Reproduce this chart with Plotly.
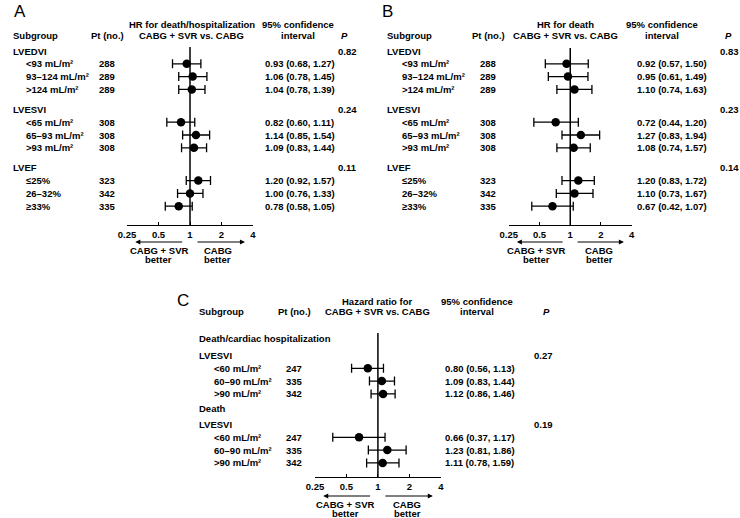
import math
import plotly.graph_objects as go

W, H = 740, 518
FONT = "Liberation Sans"
FS = 9.5

# ---------------- data ----------------
tick_vals = [0.25, 0.5, 1, 2, 4]
tick_text = ["0.25", "0.5", "1", "2", "4"]

a_groups = ["LVEDVI", "LVESVI", "LVEF"]
a_labels = [["<93 mL/m²", "93–124 mL/m²", ">124 mL/m²"],
            ["<65 mL/m²", "65–93 mL/m²", ">93 mL/m²"],
            ["≤25%", "26–32%", "≥33%"]]
a_n = [[288, 289, 289], [308, 308, 308], [323, 342, 335]]
a_hr = [[0.93, 1.06, 1.04], [0.82, 1.14, 1.09], [1.20, 1.00, 0.78]]
a_lo = [[0.68, 0.78, 0.78], [0.60, 0.85, 0.83], [0.92, 0.76, 0.58]]
a_hi = [[1.27, 1.45, 1.39], [1.11, 1.54, 1.44], [1.57, 1.33, 1.05]]
a_p = ["0.82", "0.24", "0.11"]

b_groups = ["LVEDVI", "LVESVI", "LVEF"]
b_labels = a_labels
b_n = [[288, 289, 289], [308, 308, 308], [323, 342, 335]]
b_hr = [[0.92, 0.95, 1.10], [0.72, 1.27, 1.08], [1.20, 1.10, 0.67]]
b_lo = [[0.57, 0.61, 0.74], [0.44, 0.83, 0.74], [0.83, 0.73, 0.42]]
b_hi = [[1.50, 1.49, 1.63], [1.20, 1.94, 1.57], [1.72, 1.67, 1.07]]
b_p = ["0.83", "0.23", "0.14"]

c_sections = ["Death/cardiac hospitalization", "Death"]
c_groups = ["LVESVI", "LVESVI"]
c_labels = [["<60 mL/m²", "60–90 mL/m²", ">90 mL/m²"],
            ["<60 mL/m²", "60–90 mL/m²", ">90 mL/m²"]]
c_n = [[247, 335, 342], [247, 335, 342]]
c_hr = [[0.80, 1.09, 1.12], [0.66, 1.23, 1.11]]
c_lo = [[0.56, 0.83, 0.86], [0.37, 0.81, 0.78]]
c_hi = [[1.13, 1.44, 1.46], [1.17, 1.86, 1.59]]
c_p = ["0.27", "0.19"]

# ---------------- helpers ----------------
annotations = []
shapes = []
traces = []


def txt(x, y, s, anchor="left", bold=True, italic=False, size=FS):
    annotations.append(dict(
        x=x / W, y=y, xref="paper", yref="y", text=s, showarrow=False,
        xanchor=anchor, yanchor="middle", borderpad=0,
        font=dict(family=FONT, size=size, color="black",
                  weight="bold" if bold else "normal",
                  style="italic" if italic else "normal")))


def panel(ax, L, rows):
    xs, ys, ep, em = [], [], [], []
    for kind, y, item in rows:
        if kind == "section":
            txt(L["sub"], y, item)
        elif kind == "group":
            name, p = item
            txt(L["sub"], y, name)
            txt(L["pval"], y, p)
        else:
            lab, n, hr, lo, hi = item
            txt(L["ind"], y, lab)
            txt(L["pt"], y, str(n), anchor="center")
            txt(L["ci"], y, f"{hr:.2f} ({lo:.2f}, {hi:.2f})")
            xs.append(hr); ys.append(y); ep.append(hi - hr); em.append(hr - lo)
    traces.append(go.Scatter(
        x=xs, y=ys, mode="markers", xaxis=ax, yaxis="y",
        marker=dict(size=8.5, color="black"),
        error_x=dict(type="data", symmetric=False, array=ep, arrayminus=em,
                     color="black", thickness=1.3, width=4.5),
        showlegend=False, hoverinfo="skip"))
    # headers
    txt(L["letter"][0], L["letter"][1], L["name"], anchor="left", bold=False, size=17)
    txt(L["sub"], L["h2"], "Subgroup")
    txt(L["pt"], L["h2"], "Pt (no.)", anchor="center")
    txt(L["hr"], L["h1"], L["hr1"], anchor="center")
    txt(L["hr"], L["h2"], L["hr2"], anchor="center")
    txt(L["cih"], L["h1"], "95% confidence", anchor="center")
    txt(L["cih"], L["h2"], "interval", anchor="center")
    txt(L["ph"], L["h2"], "P", italic=True)
    # reference line at HR = 1
    shapes.append(dict(type="line", xref=ax, yref="y", x0=1, x1=1,
                       y0=L["top"], y1=L["axy"],
                       line=dict(color="black", width=1.5)))
    # arrows (annotation positions on log axes are given in log10 units)
    for head, tail in [(0.3, 0.87), (3.35, 1.14)]:
        annotations.append(dict(
            x=math.log10(head), y=L["arr"], ax=math.log10(tail), ay=L["arr"],
            xref=ax, yref="y", axref=ax, ayref="y", showarrow=True,
            arrowhead=2, arrowsize=1, arrowwidth=1, arrowcolor="black", text=""))
    txt(L["lb"], L["arr"] + 8.5, "CABG + SVR", anchor="center")
    txt(L["lb"], L["arr"] + 17, "better", anchor="center")
    txt(L["rb"], L["arr"] + 8.5, "CABG", anchor="center")
    txt(L["rb"], L["arr"] + 17, "better", anchor="center")


def ab_rows(groups, labels, n, hr, lo, hi, p, y0):
    rows = []
    y = y0
    for g in range(len(groups)):
        rows.append(("group", y, (groups[g], p[g])))
        for k in range(3):
            y += 12.8
            rows.append(("row", y, (labels[g][k], n[g][k], hr[g][k], lo[g][k], hi[g][k])))
        y += 20
    return rows


rows_a = ab_rows(a_groups, a_labels, a_n, a_hr, a_lo, a_hi, a_p, 51)
rows_b = ab_rows(b_groups, b_labels, b_n, b_hr, b_lo, b_hi, b_p, 51)

rows_c = []
sec_y = [338, 408]
grp_y = [355, 424]
for s in range(2):
    rows_c.append(("section", sec_y[s], c_sections[s]))
    rows_c.append(("group", grp_y[s], (c_groups[s], c_p[s])))
    y = grp_y[s] + 0.5
    for k in range(3):
        y += 12.8
        rows_c.append(("row", y, (c_labels[s][k], c_n[s][k], c_hr[s][k], c_lo[s][k], c_hi[s][k])))

LA = dict(name="A", letter=(4, 11), sub=3, ind=16, pt=100, hr=186, cih=294, ci=259,
          ph=336, pval=333, h1=24, h2=35, top=47, axy=225, arr=242, lb=152, rb=212,
          hr1="HR for death/hospitalization", hr2="CABG + SVR vs. CABG", dom=(120, 248))
LB = dict(name="B", letter=(378, 11), sub=383, ind=398, pt=487, hr=566, cih=664, ci=637,
          ph=727, pval=722, h1=24, h2=35, top=48, axy=225, arr=242, lb=536, rb=600,
          hr1="HR for death", hr2="CABG + SVR vs. CABG", dom=(508, 633))
LC = dict(name="C", letter=(170, 300), sub=192, ind=207, pt=290, hr=375, cih=476, ci=442,
          ph=542, pval=533, h1=301, h2=311, top=333, axy=477, arr=496, lb=342, rb=405,
          hr1="Hazard ratio for", hr2="CABG + SVR vs. CABG", dom=(311, 439))

panel("x", LA, rows_a)
panel("x2", LB, rows_b)
panel("x3", LC, rows_c)

fig = go.Figure(traces)


def xax(L):
    return dict(type="log", range=[math.log10(0.25), math.log10(4)],
                domain=[L["dom"][0] / W, L["dom"][1] / W],
                anchor="free", position=1 - L["axy"] / H,
                tickvals=tick_vals, ticktext=tick_text,
                ticks="inside", ticklen=3, tickwidth=1.2, tickcolor="black",
                showline=True, linecolor="black", linewidth=1.3,
                showgrid=False, zeroline=False, fixedrange=True,
                tickfont=dict(family=FONT, size=FS, color="black", weight="bold"))


fig.update_layout(
    width=W, height=H, margin=dict(l=0, r=0, t=0, b=0, pad=0),
    paper_bgcolor="white", plot_bgcolor="white",
    xaxis=xax(LA), xaxis2=xax(LB), xaxis3=xax(LC),
    yaxis=dict(range=[H, 0], domain=[0, 1], visible=False, fixedrange=True),
    annotations=annotations, shapes=shapes, showlegend=False,
)

fig.write_html("out.html", config={"displayModeBar": False},
               post_script="document.body.style.margin='0';document.body.style.overflow='hidden';")
